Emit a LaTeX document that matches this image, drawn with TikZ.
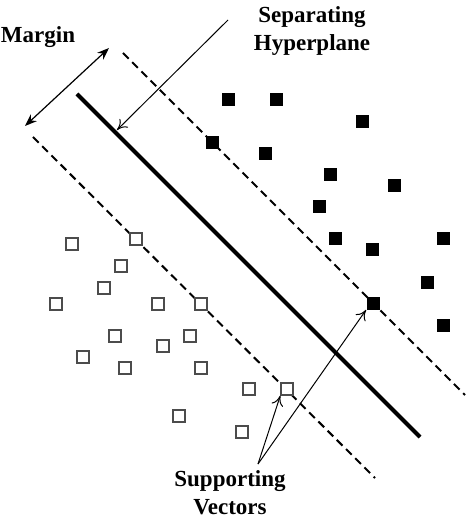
\documentclass[tikz,border=0pt]{standalone}
\usepackage{fontspec}
\setmainfont{Liberation Serif}
\usetikzlibrary{arrows.meta}

\tikzset{
  plein/.style={fill=black, minimum size=6.5pt, inner sep=0pt},
  vide/.style={draw=black!70, line width=0.9pt, fill=white, minimum size=5.8pt, inner sep=0pt},
  titre/.style={font=\bfseries\fontsize{11.5}{14}\selectfont, align=center},
  pointille/.style={dash pattern=on 4pt off 2.5pt, line width=1pt}
}

\begin{document}
\begin{tikzpicture}[x=0.5pt, y=-0.5pt]

\useasboundingbox (0,0) rectangle (470,517);

% Marges
\draw[pointille] (123,53) -- (465,395);
\draw[pointille] (33,137) -- (375,478);

% Hyperplan
\draw[line width=2pt] (77,94) -- (420,437);

% Classe pleine
\foreach \x/\y [count=\i] in {
228/100, 276/100, 362/122, 212/143,
265/154, 330/175, 394/186, 319/207,
335/239, 372/250, 443/239, 427/282,
373/303, 443/325
}
{
\node[plein] (p\i) at (\x,\y) {};
}

% Classe vide
\foreach \x/\y [count=\i] in {
72/244, 136/239, 121/266, 104/288,
56/304, 158/304, 201/304, 115/336,
190/336, 163/346, 83/357, 125/368,
201/368, 249/389, 287/389, 179/416,
242/432
}
{
\node[vide] (v\i) at (\x,\y) {};
}

% Textes
\node[titre] (marge) at (38,37) {Margin};
\node[titre] (hyper) at (312,31) {Separating\\Hyperplane};
\node[titre] (support) at (230,493) {Supporting\\Vectors};

% Fleches
\coordinate (margeA) at (25,126);
\coordinate (margeB) at (109,48);
\draw[{Stealth[length=6pt,width=4.5pt]}-{Stealth[length=6pt,width=4.5pt]}, line width=0.6pt] (margeA) -- (margeB);

\coordinate (hyperA) at (228,20);
\coordinate (hyperB) at (117,130);
\draw[-{To[length=5pt,width=6pt]}, line width=0.5pt] (hyperA) -- (hyperB);

\coordinate (supportA) at (258,464);
\draw[-{To[length=5pt,width=6pt]}, line width=0.5pt] (supportA) -- (v15.south west);
\draw[-{To[length=5pt,width=6pt]}, line width=0.5pt] (supportA) -- (p13.south west);

\end{tikzpicture}
\end{document}
